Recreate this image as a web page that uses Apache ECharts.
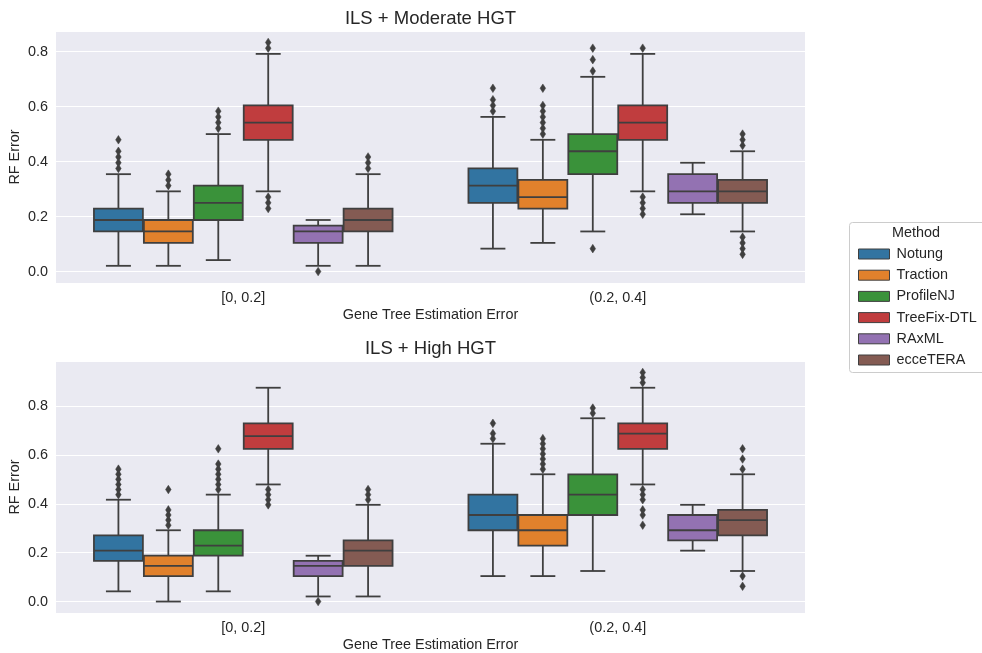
<!DOCTYPE html>
<html>
<head>
<meta charset="utf-8">
<script src="https://cdn.jsdelivr.net/npm/echarts@6/dist/echarts.min.js"></script>
<style>
html,body{margin:0;padding:0;background:#fff;}
#chart{width:982px;height:653px;}
</style>
</head>
<body>
<div id="chart"></div>
<script>
// ---- data ----
const categories = ['[0, 0.2]', '(0.2, 0.4]'];
const methods = ['Notung', 'Traction', 'ProfileNJ', 'TreeFix-DTL', 'RAxML', 'ecceTERA'];
const panelTitles = ['ILS + Moderate HGT', 'ILS + High HGT'];

// five-number summaries per method: [whiskerLow, q1, median, q3, whiskerHigh] for each category
const moderateBoxes = [
  [[0.0208, 0.1458, 0.1875, 0.2292, 0.3542], [0.0833, 0.25, 0.3125, 0.375, 0.5625]],
  [[0.0208, 0.1042, 0.1458, 0.1875, 0.2917], [0.1042, 0.2292, 0.2708, 0.3333, 0.4792]],
  [[0.0417, 0.1875, 0.25, 0.3125, 0.5], [0.1458, 0.3542, 0.4375, 0.5, 0.7083]],
  [[0.2917, 0.4792, 0.5417, 0.6042, 0.7917], [0.2917, 0.4792, 0.5417, 0.6042, 0.7917]],
  [[0.0208, 0.1042, 0.1458, 0.1667, 0.1875], [0.2083, 0.25, 0.2917, 0.3542, 0.3958]],
  [[0.0208, 0.1458, 0.1875, 0.2292, 0.3542], [0.1458, 0.25, 0.2917, 0.3333, 0.4375]]
];
const moderateOutliers = [
  [[0.375, 0.3958, 0.4167, 0.4375, 0.4792], [0.5833, 0.6042, 0.625, 0.6667]],
  [[0.3125, 0.3333, 0.3542], [0.5, 0.5208, 0.5417, 0.5625, 0.5833, 0.6042, 0.6667]],
  [[0.5208, 0.5417, 0.5625, 0.5833], [0.0833, 0.7292, 0.7708, 0.8125]],
  [[0.2292, 0.25, 0.2708, 0.8125, 0.8333], [0.2083, 0.2292, 0.25, 0.2708, 0.8125]],
  [[0.0], []],
  [[0.375, 0.3958, 0.4167], [0.0625, 0.0833, 0.1042, 0.125, 0.4583, 0.4792, 0.5]]
];
const highBoxes = [
  [[0.0417, 0.1667, 0.2083, 0.2708, 0.4167], [0.1042, 0.2917, 0.3542, 0.4375, 0.6458]],
  [[0.0, 0.1042, 0.1458, 0.1875, 0.2917], [0.1042, 0.2292, 0.2917, 0.3542, 0.5208]],
  [[0.0417, 0.1875, 0.2292, 0.2917, 0.4375], [0.125, 0.3542, 0.4375, 0.5208, 0.75]],
  [[0.4792, 0.625, 0.6771, 0.7292, 0.875], [0.4792, 0.625, 0.6875, 0.7292, 0.875]],
  [[0.0208, 0.1042, 0.1458, 0.1667, 0.1875], [0.2083, 0.25, 0.2917, 0.3542, 0.3958]],
  [[0.0208, 0.1458, 0.2083, 0.25, 0.3958], [0.125, 0.2708, 0.3333, 0.375, 0.5208]]
];
const highOutliers = [
  [[0.4375, 0.4583, 0.4792, 0.5, 0.5208, 0.5417], [0.6667, 0.6875, 0.7292]],
  [[0.3125, 0.3333, 0.3542, 0.375, 0.4583], [0.5417, 0.5625, 0.5833, 0.6042, 0.625, 0.6458, 0.6667]],
  [[0.4583, 0.4792, 0.5, 0.5208, 0.5417, 0.5625, 0.625], [0.7708, 0.7917]],
  [[0.3958, 0.4167, 0.4375, 0.4583], [0.3125, 0.3542, 0.375, 0.4167, 0.4375, 0.4583, 0.8958, 0.9167, 0.9375]],
  [[0.0], []],
  [[0.4167, 0.4375, 0.4583], [0.0625, 0.1042, 0.5417, 0.5833, 0.625]]
];
const yLimits = [[-0.0417, 0.875], [-0.0469, 0.9844]];

// ---- style ----
const palette = ['#3274a1', '#e1812c', '#3a923a', '#c03d3e', '#9372b2', '#845b53'];
const edge = '#3f3f3f';
const FONT = '"Liberation Sans", Arial, sans-serif';
const TXT = '#262626';
const grids = [
  { left: 56, top: 31, width: 749, height: 252 },
  { left: 56, top: 361, width: 749, height: 252 }
];

function makeRender(methodIdx, outliers) {
  return function (params, api) {
    const cat = api.value(0);
    const band = api.size([1, 0])[0];
    const boxW = band * 0.8 / methods.length;
    const cx = api.coord([cat, 0])[0] + (methodIdx - (methods.length - 1) / 2) * boxW;
    const y = (v) => api.coord([cat, v])[1];
    const lo = y(api.value(1)), q1 = y(api.value(2)), md = y(api.value(3)),
          q3 = y(api.value(4)), hi = y(api.value(5));
    const lw = 1.8;
    const ls = { stroke: edge, lineWidth: lw, fill: null };
    const w = boxW * 0.98;
    const cap = boxW / 4;
    const children = [
      { type: 'line', shape: { x1: cx, y1: q1, x2: cx, y2: lo }, style: ls },
      { type: 'line', shape: { x1: cx, y1: q3, x2: cx, y2: hi }, style: ls },
      { type: 'line', shape: { x1: cx - cap, y1: lo, x2: cx + cap, y2: lo }, style: ls },
      { type: 'line', shape: { x1: cx - cap, y1: hi, x2: cx + cap, y2: hi }, style: ls },
      { type: 'rect', shape: { x: cx - w / 2, y: q3, width: w, height: q1 - q3 },
        style: { fill: palette[methodIdx], stroke: edge, lineWidth: lw } },
      { type: 'line', shape: { x1: cx - w / 2, y1: md, x2: cx + w / 2, y2: md }, style: ls }
    ];
    (outliers[cat] || []).forEach(function (v) {
      const oy = y(v);
      children.push({
        type: 'polygon',
        shape: { points: [[cx, oy - 4.3], [cx + 2.8, oy], [cx, oy + 4.3], [cx - 2.8, oy]] },
        style: { fill: edge, stroke: edge, lineWidth: 0.5 }
      });
    });
    return { type: 'group', children: children };
  };
}

const series = [];
[[moderateBoxes, moderateOutliers], [highBoxes, highOutliers]].forEach(function (panel, p) {
  const boxes = panel[0], outs = panel[1];
  methods.forEach(function (m, i) {
    series.push({
      type: 'custom',
      name: m,
      xAxisIndex: p,
      yAxisIndex: p,
      itemStyle: { color: palette[i], borderColor: edge, borderWidth: 1 },
      encode: { x: 0, y: [1, 2, 3, 4, 5] },
      data: categories.map(function (c, k) { return [k].concat(boxes[i][k]); }),
      renderItem: makeRender(i, outs[i]),
      silent: true,
      animation: false
    });
  });
});

const xAxes = grids.map(function (g, p) {
  return {
    type: 'category', gridIndex: p, data: categories,
    name: 'Gene Tree Estimation Error', nameLocation: 'middle', nameGap: 25,
    nameMoveOverlap: false,
    nameTextStyle: { fontFamily: FONT, fontSize: 14.4, color: TXT },
    axisLine: { show: false }, axisTick: { show: false },
    axisLabel: { margin: 8.5, fontFamily: FONT, fontSize: 14.4, color: TXT },
    splitLine: { show: false }
  };
});
const yAxes = grids.map(function (g, p) {
  return {
    type: 'value', gridIndex: p, min: yLimits[p][0], max: yLimits[p][1], splitNumber: 5,
    name: 'RF Error', nameLocation: 'middle', nameGap: 34,
    nameMoveOverlap: false,
    nameTextStyle: { fontFamily: FONT, fontSize: 14.4, color: TXT },
    axisLine: { show: false }, axisTick: { show: false },
    axisLabel: { margin: 8, fontFamily: FONT, fontSize: 14.4, color: TXT,
      showMinLabel: false, showMaxLabel: false,
      formatter: function (v) { return v.toFixed(1); } },
    splitLine: { show: true, lineStyle: { color: '#ffffff', width: 1.2 } }
  };
});

const chart = echarts.init(document.getElementById('chart'), null, { renderer: 'canvas' });
chart.setOption({
  backgroundColor: '#ffffff',
  animation: false,
  title: panelTitles.map(function (t, p) {
    return { text: t, left: 430.5, textAlign: 'center', top: p === 0 ? 9.5 : 339,
      padding: 0,
      textStyle: { fontFamily: FONT, fontSize: 18.5, fontWeight: 'normal', color: TXT } };
  }),
  grid: grids.map(function (g) {
    return Object.assign({ show: true, backgroundColor: '#eaeaf2', borderWidth: 0,
      containLabel: false, outerBoundsMode: 'none' }, g);
  }),
  xAxis: xAxes,
  yAxis: yAxes,
  legend: {
    orient: 'vertical', left: 853, top: 242, itemGap: 7.2,
    itemWidth: 31, itemHeight: 10, icon: 'rect',
    data: methods,
    itemStyle: { borderColor: edge, borderWidth: 1 },
    textStyle: { fontFamily: FONT, fontSize: 14.4, color: TXT, padding: [0, 0, 0, 2] },
    selectedMode: false
  },
  graphic: [
    { type: 'rect', z: -1, shape: { x: 849.5, y: 222.5, width: 140, height: 150, r: 3 },
      style: { fill: '#ffffff', stroke: '#cccccc', lineWidth: 1 } },
    { type: 'text', z: 1, x: 916, y: 233,
      style: { text: 'Method', fontFamily: FONT, fontSize: 14.4, fill: TXT,
        textAlign: 'center', textVerticalAlign: 'middle' } }
  ],
  series: series
});
</script>
</body>
</html>
